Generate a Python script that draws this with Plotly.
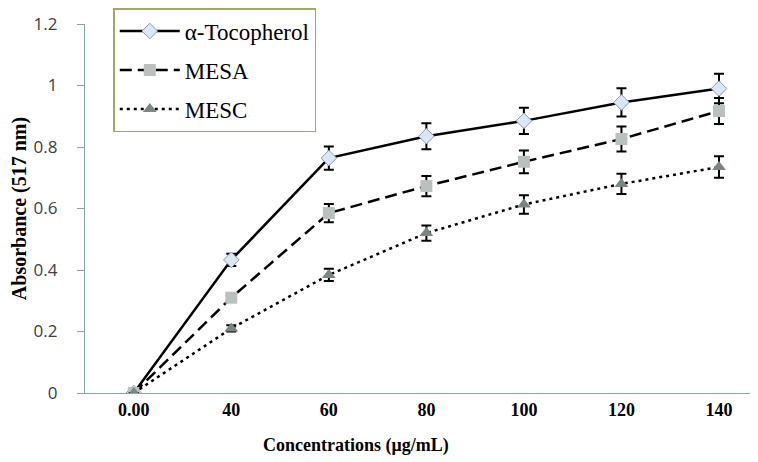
import plotly.graph_objects as go

categories = ["0.00", "40", "60", "80", "100", "120", "140"]
toco = [0, 0.433, 0.764, 0.835, 0.885, 0.945, 0.99]
toco_err = [0, 0.02, 0.038, 0.042, 0.043, 0.046, 0.048]
mesa = [0, 0.31, 0.585, 0.673, 0.752, 0.826, 0.917]
mesa_err = [0, 0.01, 0.03, 0.033, 0.037, 0.041, 0.042]
mesc = [0, 0.21, 0.384, 0.52, 0.613, 0.68, 0.735]
mesc_err = [0, 0.01, 0.02, 0.025, 0.03, 0.033, 0.035]
yticks = [0, 0.2, 0.4, 0.6, 0.8, 1.0, 1.2]
ytick_text = ["0", "0.2", "0.4", "0.6", "0.8", "1", "1.2"]
x_title = "Concentrations (\u03bcg/mL)"
y_title = "Absorbance (517 nm)"

fig = go.Figure()

def err(vals):
    return dict(type="data", array=vals, color="black", thickness=2, width=5)

fig.add_trace(go.Scatter(
    x=categories, y=toco, name="\u03b1-Tocopherol", mode="lines+markers",
    line=dict(color="black", width=2.5, dash="solid"),
    marker=dict(symbol="diamond", size=12, color="#dce6f7", line=dict(color="#8a9ab8", width=1)),
    error_y=err(toco_err), legendgroup="a"))
fig.add_trace(go.Scatter(
    x=categories, y=mesa, name="MESA", mode="lines+markers",
    line=dict(color="black", width=2.5, dash="12px,6px"),
    marker=dict(symbol="square", size=12, color="#b9c0bd"),
    error_y=err(mesa_err), legendgroup="b"))
fig.add_trace(go.Scatter(
    x=categories, y=mesc, name="MESC", mode="lines+markers",
    line=dict(color="black", width=2.5, dash="3px,4px"),
    marker=dict(symbol="triangle-up", size=12, color="#7c8582"),
    error_y=err(mesc_err), legendgroup="c"))

fig.add_annotation(
    text=x_title, xref="paper", yref="paper", x=0.403, y=0,
    xanchor="center", yanchor="middle", yshift=-52, showarrow=False,
    font=dict(family="Liberation Serif", size=18, color="black", weight="bold"))

fig.update_layout(
    width=750, height=454,
    margin=dict(l=77, r=0, t=16, b=69),
    plot_bgcolor="white", paper_bgcolor="white",
    showlegend=True,
    legend=dict(
        x=0.042, y=1.043, xanchor="left", yanchor="top",
        bordercolor="#a3a86a", borderwidth=1.5, bgcolor="white",
        font=dict(family="Liberation Serif", size=23, color="black"),
        traceorder="grouped", tracegroupgap=6, itemwidth=60,
    ),
    xaxis=dict(
        type="category", range=[-0.5, 6.4],
        showline=True, linecolor="#8aa3a3", linewidth=1.2,
        ticks="", showgrid=False, zeroline=False,
        tickfont=dict(family="Liberation Serif", size=18, color="black", weight="bold"),
    ),
    yaxis=dict(
        range=[0, 1.2], tickvals=yticks, ticktext=ytick_text,
        showline=True, linecolor="#8aa3a3", linewidth=1.2,
        ticks="outside", ticklen=7, tickcolor="#8aa3a3",
        ticklabelstandoff=16,
        showgrid=False, zeroline=False,
        tickfont=dict(family="Open Sans", size=17, color="#404040"),
        title=dict(text=y_title, standoff=6,
                   font=dict(family="Liberation Serif", size=20, color="black", weight="bold")),
    ),
)

fig.write_html("out.html")
